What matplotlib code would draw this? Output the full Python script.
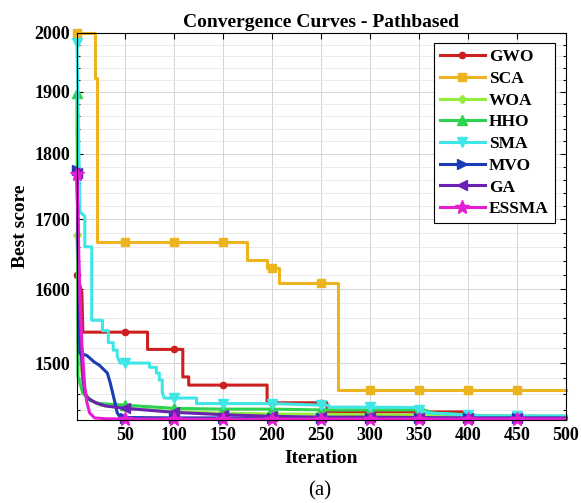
import matplotlib
matplotlib.use("Agg")
import matplotlib.pyplot as plt
from matplotlib.ticker import FixedLocator, NullFormatter

plt.rcParams["font.family"] = ["Liberation Serif", "DejaVu Serif"]

# iterations / best score (steps are repeated x values)
GWO_x = [1, 6, 7, 50, 73, 73, 100, 109, 109, 115, 115, 150, 195, 195, 200, 250, 256, 256, 300, 350, 398, 398, 400, 450, 500]
GWO_y = [1620, 1595, 1541, 1541, 1541, 1518, 1518, 1518, 1482, 1482, 1471.5, 1471.5, 1471.5, 1449, 1449, 1449, 1449,
         1437.5, 1437.5, 1437.5, 1437.5, 1432, 1432, 1431, 1431]

SCA_x = [1, 19, 19, 21, 21, 50, 100, 150, 174, 174, 195, 195, 200, 207, 207, 250, 267, 267, 300, 350, 400, 450, 500]
SCA_y = [2000, 2000, 1923, 1923, 1667, 1667, 1667, 1667, 1667, 1641, 1641, 1629, 1629, 1629, 1608, 1608, 1608,
         1465, 1465, 1465, 1465, 1465, 1465]

WOA_x = [1, 3, 5, 7, 10, 15, 25, 50, 100, 150, 200, 250, 300, 350, 400, 450, 500]
WOA_y = [1677, 1560, 1500, 1475, 1460, 1452, 1446, 1442, 1438, 1436, 1435, 1434.5, 1434, 1433.5, 1433, 1432.5, 1432]

HHO_x = [1, 2, 4, 7, 14, 24, 50, 100, 150, 200, 250, 300, 350, 355, 365, 400, 420, 450, 500]
HHO_y = [1898, 1483, 1474, 1461, 1452, 1448, 1446, 1442, 1441, 1441, 1440, 1440, 1440, 1440, 1436, 1434, 1432,
         1432, 1432]

SMA_x = [1, 4, 9, 9, 16, 16, 27, 27, 33, 33, 38, 38, 42, 42, 45, 50, 75, 75, 82, 82, 85, 85, 88, 88, 90, 100,
         123, 123, 150, 200, 250, 258, 258, 300, 345, 350, 360, 380, 400, 420, 450, 500]
SMA_y = [1983, 1711, 1705, 1660, 1660, 1557, 1557, 1543, 1543, 1527, 1527, 1517, 1517, 1509, 1500, 1500, 1500,
         1494.5, 1494.5, 1487, 1487, 1478, 1478, 1462, 1455, 1455, 1455, 1448, 1448, 1448, 1446, 1446, 1443.5,
         1443.5, 1443, 1440, 1436, 1435, 1433.5, 1432.5, 1432.5, 1432.5]

MVO_x = [1, 4, 11, 19, 24, 32, 35, 40, 42, 45, 50, 100, 150, 200, 250, 300, 350, 400, 450, 500]
MVO_y = [1775, 1513, 1510, 1501, 1497, 1487, 1474, 1448, 1436.5, 1431, 1430.5, 1430, 1430, 1429.5, 1429.5,
         1429.5, 1429.5, 1429.5, 1429.5, 1429.5]

GA_x = [1, 3, 5, 7, 9, 12, 20, 30, 50, 100, 150, 200, 250, 300, 350, 400, 450, 500]
GA_y = [1770, 1600, 1520, 1480, 1462, 1455, 1449, 1445, 1442, 1437, 1434, 1432, 1431, 1431, 1430.5, 1430, 1430, 1430]

ESSMA_x = [1, 3, 4, 6, 9, 11, 14, 19, 30, 50, 100, 150, 200, 250, 300, 350, 400, 450, 500]
ESSMA_y = [1768, 1640, 1590, 1526, 1469, 1450, 1436, 1430, 1429, 1428.5, 1428.5, 1428.5, 1428.5, 1428.5, 1428.5,
           1428.5, 1428.5, 1428.5, 1428.5]

MARK_AT = [1, 50, 100, 150, 200, 250, 300, 350, 400, 450]

series = [
    ("GWO", GWO_x, GWO_y, "#cc1f1f", "o", 4.5),
    ("SCA", SCA_x, SCA_y, "#ecb41e", "s", 5.5),
    ("WOA", WOA_x, WOA_y, "#96ec3c", "D", 4.5),
    ("HHO", HHO_x, HHO_y, "#2ed250", "^", 6.5),
    ("SMA", SMA_x, SMA_y, "#40e6e6", "v", 6.5),
    ("MVO", MVO_x, MVO_y, "#1a3cb4", ">", 6.5),
    ("GA", GA_x, GA_y, "#6a22b4", "<", 6.5),
    ("ESSMA", ESSMA_x, ESSMA_y, "#e61ed2", "*", 10),
]


def marker_idx(xs):
    idx = []
    for m in MARK_AT:
        if m in xs:
            idx.append(xs.index(m))
    return idx


fig = plt.figure(figsize=(5.81, 5.03), dpi=100)
ax = fig.add_axes([0.1325, 0.165, 0.8417, 0.7694])

for name, xs, ys, col, mk, ms in series:
    ax.plot(xs, ys, color=col, linewidth=2.2, marker=mk, markersize=ms,
            markevery=marker_idx(xs), label=name, clip_on=False)

ax.set_yscale("log")
ax.set_xlim(1, 500)
ax.set_ylim(1427.4, 2000)

yt = [1500, 1600, 1700, 1800, 1900, 2000]
ax.yaxis.set_major_locator(FixedLocator(yt))
ax.yaxis.set_minor_locator(FixedLocator([v for v in range(1440, 2000, 20) if v % 100]))
ax.yaxis.set_minor_formatter(NullFormatter())
ax.set_yticklabels([str(v) for v in yt])
ax.set_xticks(range(50, 501, 50))

ax.tick_params(axis="both", which="both", direction="in", top=True, right=True,
               labelsize=13, pad=5, width=0.8)
ax.tick_params(which="major", length=4)
ax.tick_params(which="minor", length=2)
for lab in ax.get_xticklabels() + ax.get_yticklabels():
    lab.set_fontweight("bold")

ax.grid(True, which="major", color="#d4d4d4", linewidth=0.7)
ax.grid(True, which="minor", axis="y", color="#e8e8e8", linewidth=0.6)
for s in ax.spines.values():
    s.set_linewidth(0.8)

ax.set_title("Convergence Curves - Pathbased", fontsize=14, fontweight="bold", pad=4)
ax.set_xlabel("Iteration", fontsize=14, fontweight="bold", labelpad=4)
ax.set_ylabel("Best score", fontsize=14, fontweight="bold", labelpad=4)

leg = ax.legend(loc="upper right", bbox_to_anchor=(0.9775, 0.974), borderaxespad=0,
                prop={"size": 12.5, "weight": "bold"}, handlelength=2.6, handletextpad=0.25,
                labelspacing=0.32, borderpad=0.35, fancybox=False, framealpha=1)
leg.get_frame().set_edgecolor("black")
leg.get_frame().set_linewidth(0.8)

fig.text(0.551, 0.024, "(a)", fontsize=15, ha="center", va="center")

fig.savefig("out.png", dpi=100, facecolor="white")
plt.close(fig)
